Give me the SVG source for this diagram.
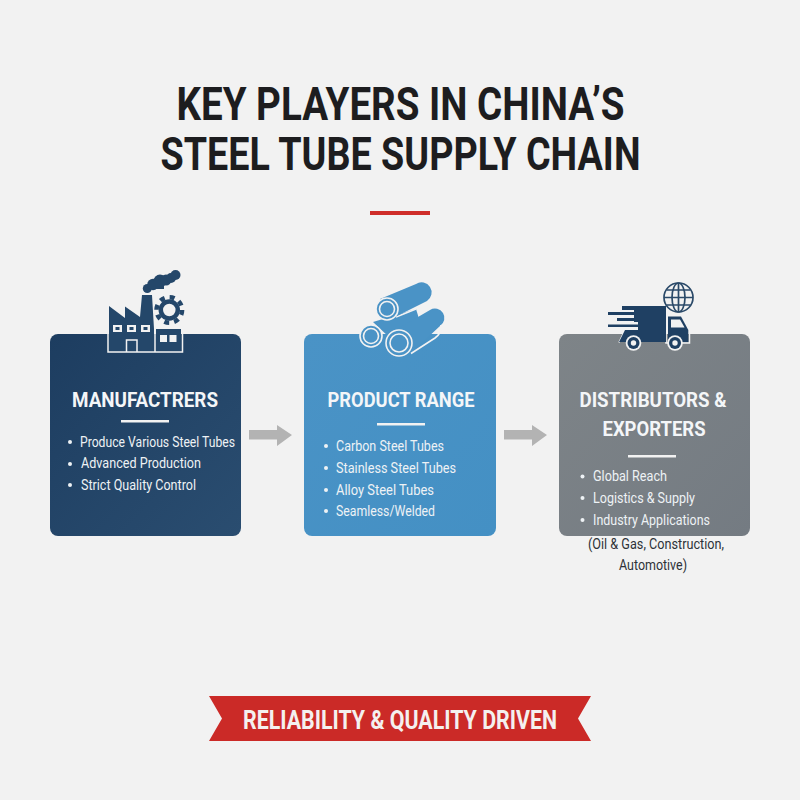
<svg xmlns="http://www.w3.org/2000/svg" width="800" height="800" viewBox="0 0 800 800">
<defs>
<linearGradient id="g1" x1="0" y1="0" x2="1" y2="1"><stop offset="0" stop-color="#1d3d60"/><stop offset="1" stop-color="#2a4d70"/></linearGradient>
<linearGradient id="g2" x1="0" y1="0" x2="1" y2="1"><stop offset="0" stop-color="#4a93c6"/><stop offset="1" stop-color="#4490c4"/></linearGradient>
<linearGradient id="g3" x1="0" y1="0" x2="1" y2="1"><stop offset="0" stop-color="#7e8488"/><stop offset="1" stop-color="#747b82"/></linearGradient>
</defs>
<style>
text{font-family:Roboto,"Liberation Sans",sans-serif}
.t{font-size:46px;font-weight:700;fill:#1d1d1f;text-anchor:middle}
.h{font-size:20px;font-weight:700;fill:#f4f6f8;text-anchor:middle}
.b{font-size:14.5px;fill:#eef2f5}
.c{font-size:14.500px;fill:#2e3238;text-anchor:middle}
.rule{fill:#f2f2f2}
.dot{fill:#eef2f5}
.arrow{fill:#b3b3b3}
.navy{fill:#24476a}
.lt{fill:#f2f2f2}
.ln{fill:none;stroke:#f2f2f2;stroke-width:1.500}
.tb{fill:#4a93c6}
.rg{fill:none;stroke:#f2f2f2;stroke-width:1.600}
.tk{fill:#1f4063}
</style>
<rect width="800" height="800" fill="#f2f2f2"/>
<text class="t" x="400.500" y="120" textLength="448" lengthAdjust="spacingAndGlyphs">KEY PLAYERS IN CHINA’S</text>
<text class="t" x="400.500" y="170" textLength="480" lengthAdjust="spacingAndGlyphs">STEEL TUBE SUPPLY CHAIN</text>
<rect x="370" y="211" width="60" height="4" fill="#cf2e2a"/>

<g id="manufacturers">
<rect x="50" y="334" width="191" height="202" rx="8" fill="url(#g1)"/>
<g id="factory-icon">
<path class="navy" d="M109 352V306L125 318V306.500L140 317L142 295H152L154 329V352Z"/>
<rect class="navy" x="156" y="329" width="25" height="23"/>
<path class="ln" d="M108 334V352H155V334M155 352H182.500V334"/>
<path class="ln" d="M126.500 352V340H137V352"/>
<g class="lt"><rect x="113" y="325" width="9" height="7"/><rect x="127" y="325" width="9" height="7"/><rect x="141" y="325" width="9" height="7"/><rect x="160" y="335" width="7" height="7"/><rect x="169.500" y="335" width="7" height="7"/></g>
<g class="navy"><rect x="115.500" y="327" width="4" height="3"/><rect x="129.500" y="327" width="4" height="3"/><rect x="143.500" y="327" width="4" height="3"/></g>
<circle cx="169.300" cy="310" r="8.500" fill="none" stroke="#24476a" stroke-width="4.500"/>
<circle cx="169.300" cy="310" r="12.800" fill="none" stroke="#24476a" stroke-width="4.500" stroke-dasharray="5 5.050"/>
<g class="navy"><circle cx="147.300" cy="288.500" r="4.500"/><circle cx="153" cy="284.500" r="5.800"/><circle cx="160" cy="281" r="6.500"/><circle cx="166" cy="280" r="5.500"/><circle cx="171" cy="278" r="5"/><circle cx="175.500" cy="275" r="5"/><rect x="150" y="282" width="14" height="7"/></g>
</g>
<text class="h" x="145" y="407" textLength="146" lengthAdjust="spacingAndGlyphs">MANUFACTRERS</text>
<rect x="121" y="420" width="48" height="2.500" class="rule"/>
<circle class="dot" cx="70" cy="442" r="2"/><text class="b" x="80" y="447" textLength="155" lengthAdjust="spacingAndGlyphs">Produce Various Steel Tubes</text>
<circle class="dot" cx="70" cy="464" r="2"/><text class="b" x="81" y="468" textLength="120" lengthAdjust="spacingAndGlyphs">Advanced Production</text>
<circle class="dot" cx="70" cy="485" r="2"/><text class="b" x="81" y="490" textLength="115" lengthAdjust="spacingAndGlyphs">Strict Quality Control</text>
</g>

<g id="product-range">
<rect x="304" y="334" width="192" height="202" rx="8" fill="url(#g2)"/>
<g id="tubes-icon">
<path class="tb" d="M373 322L416 309L420 322L390 338Z"/>
<path class="rg" d="M396 317L416 309"/>
<path class="tb" d="M380 299L416 284A9 9 0 0 1 427 301L395 317Z"/>
<path class="tb" d="M394 331L430 310A9 9 0 0 1 440 326L410 354Z"/>
<path class="rg" d="M411 353.500L435 338Q442 333 441 325"/>
<circle class="tb" cx="387" cy="309" r="11"/><circle class="rg" cx="387" cy="309" r="11"/><circle class="rg" cx="387" cy="309" r="7.500"/>
<circle class="tb" cx="371" cy="336" r="11"/><circle class="rg" cx="371" cy="336" r="11"/><circle class="rg" cx="371" cy="336" r="7.500"/>
<circle class="tb" cx="399" cy="343" r="13"/><circle class="rg" cx="399" cy="343" r="13"/><circle class="rg" cx="399" cy="343" r="9"/>
</g>
<text class="h" x="401" y="407" textLength="147" lengthAdjust="spacingAndGlyphs">PRODUCT RANGE</text>
<rect x="377" y="423" width="48" height="2.500" class="rule"/>
<circle class="dot" cx="326" cy="446" r="2"/><text class="b" x="336" y="451" textLength="108" lengthAdjust="spacingAndGlyphs">Carbon Steel Tubes</text>
<circle class="dot" cx="326" cy="468" r="2"/><text class="b" x="336" y="473" textLength="120" lengthAdjust="spacingAndGlyphs">Stainless Steel Tubes</text>
<circle class="dot" cx="326" cy="490" r="2"/><text class="b" x="336" y="495" textLength="98" lengthAdjust="spacingAndGlyphs">Alloy Steel Tubes</text>
<circle class="dot" cx="326" cy="511" r="2"/><text class="b" x="336" y="516" textLength="99" lengthAdjust="spacingAndGlyphs">Seamless/Welded</text>
</g>

<g id="distributors">
<rect x="559" y="334" width="191" height="202" rx="8" fill="url(#g3)"/>
<g id="truck-icon">
<path class="ln" d="M619 342.500L625 330H666V343H689.500V329.500L682 316" stroke-width="2"/>
<path class="tk" d="M622 306H666V342H619L625 330H638V327H608V324.500H638V322H634V321H617V318H634V315H608V312H634V310H622Z"/>
<path class="tk" d="M668 316.500H681L688.300 330V342H668Z"/>
<path class="lt" d="M671 319.500H680L684.500 327.500H671Z"/>
<circle class="lt" cx="633.500" cy="343" r="7.800"/><circle class="tk" cx="633.500" cy="343" r="6"/><circle class="lt" cx="633.500" cy="343" r="2.700"/>
<circle class="lt" cx="675" cy="343" r="7.800"/><circle class="tk" cx="675" cy="343" r="6"/><circle class="lt" cx="675" cy="343" r="2.700"/>
<g fill="none" stroke="#2b4a69" stroke-width="1.700"><circle cx="678.500" cy="297.500" r="14.500"/><ellipse cx="678.500" cy="297.500" rx="6.500" ry="14.500"/><path d="M678.500 283V312M664 297.500H693M666.500 290H690.500M666.500 305H690.500"/></g>
</g>
<text class="h" x="653" y="407" textLength="147" lengthAdjust="spacingAndGlyphs">DISTRIBUTORS &amp;</text>
<text class="h" x="654" y="436" textLength="103" lengthAdjust="spacingAndGlyphs">EXPORTERS</text>
<rect x="628" y="455" width="48" height="2.500" class="rule"/>
<circle class="dot" cx="582.500" cy="476.500" r="2"/><text class="b" x="593" y="481" textLength="74" lengthAdjust="spacingAndGlyphs">Global Reach</text>
<circle class="dot" cx="582.500" cy="498" r="2"/><text class="b" x="593" y="503" textLength="102" lengthAdjust="spacingAndGlyphs">Logistics &amp; Supply</text>
<circle class="dot" cx="582.500" cy="520" r="2"/><text class="b" x="593" y="525" textLength="117" lengthAdjust="spacingAndGlyphs">Industry Applications</text>
<text class="c" x="656" y="549" textLength="136" lengthAdjust="spacingAndGlyphs">(Oil &amp; Gas, Construction,</text>
<text class="c" x="653" y="570" textLength="68" lengthAdjust="spacingAndGlyphs">Automotive)</text>
</g>

<g id="connectors">
<path class="arrow" d="M249 430H277V425L292 435L277 446V439.500H249Z"/>
<path class="arrow" d="M504 430H532V425L547 435L532 446V439.500H504Z"/>
</g>

<g id="banner">
<path d="M209 696H591L578 718.500L591 741H209L222 718.500Z" fill="#cb2a27"/>
<text x="400" y="729" font-size="25" font-weight="700" fill="#f4f0ef" text-anchor="middle" textLength="314" lengthAdjust="spacingAndGlyphs">RELIABILITY &amp; QUALITY DRIVEN</text>
</g>
</svg>
